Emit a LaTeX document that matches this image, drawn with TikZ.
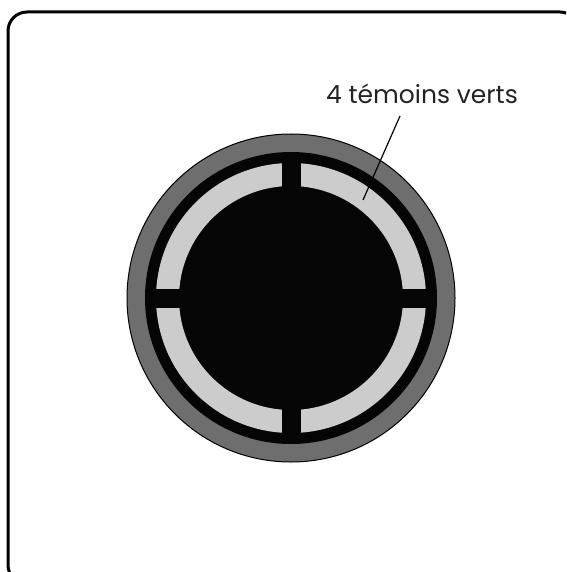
\documentclass[tikz,border=0pt]{standalone}
\usepackage{fontspec}
\setmainfont{Poppins}
\definecolor{ringgray}{RGB}{110, 110, 110}
\definecolor{lampgray}{RGB}{204, 204, 204}
\definecolor{textgray}{RGB}{35, 35, 35}
\usetikzlibrary{positioning, calc}

\begin{document}
\begin{tikzpicture}[x=1pt, y=-1pt]
        \useasboundingbox (0,0) rectangle (566,572);
        \clip (0,0) rectangle (566,572);

        % panel
        \draw[line width=3pt, rounded corners=19pt] (8,12) rectangle (579,584);

        \coordinate (c) at (291,298);

        % button
        \draw[fill=ringgray, line width=1pt] (c) circle (164);
        \fill[black!98] (c) circle (146);
        \fill[lampgray, even odd rule] (c) circle (135) (c) circle (112);

        \fill[black!98] ($(c)+(-9.5,-140)$) rectangle ($(c)+(9.5,140)$);
        \fill[black!98] ($(c)+(-140,-9.5)$) rectangle ($(c)+(140,9.5)$);

        \node[font=\fontsize{25}{28}\selectfont, text=textgray,
              inner sep=0pt, anchor=base] (lamps) at (422,104) {4 témoins verts};

        \coordinate (lampend) at (363,200);
        \draw[line width=1.2pt] ($(lamps.base)+(-22,12)$) -- (lampend);
      \end{tikzpicture}
\end{document}
